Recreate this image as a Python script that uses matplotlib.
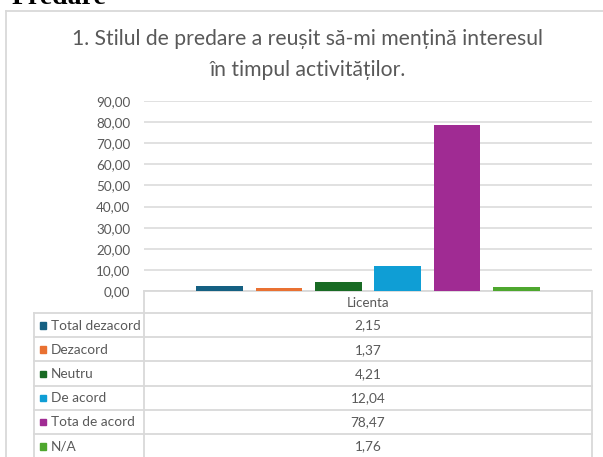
#!/usr/bin/env python3
"""Excel-style clustered bar chart with data table, Predare survey item 1."""

import matplotlib.pyplot as plt
from matplotlib.patches import Rectangle

W, H = 603, 457

HEADING = "Predare"
TITLE = "1. Stilul de predare a reușit să-mi mențină interesul\nîn timpul activităților."
CATEGORY = "Licenta"
SERIES = ["Total dezacord", "Dezacord", "Neutru", "De acord", "Tota de acord", "N/A"]
VALUES = [2.15, 1.37, 4.21, 12.04, 78.47, 1.76]
COLORS = ["#156082", "#E97132", "#196B24", "#0F9ED5", "#A02B93", "#4EA72E"]
YTICKS = [0, 10, 20, 30, 40, 50, 60, 70, 80, 90]

GRID = "#d9d9d9"
TEXT = "#595959"
FONT = ["Lato", "DejaVu Sans"]

plt.rcParams["font.family"] = FONT


def fx(x):
    return x / W


def fy(y):
    return 1 - y / H


def fmt(v):
    return f"{v:.2f}".replace(".", ",")


fig = plt.figure(figsize=(W / 100, H / 100), dpi=100)

# background overlay in pixel coordinates (y down)
bg = fig.add_axes([0, 0, 1, 1])
bg.set_xlim(0, W)
bg.set_ylim(H, 0)
bg.axis("off")

# chart frame
bg.plot([6, 6], [11, H + 5], color=GRID, lw=1.3)
bg.plot([6, W + 5], [11, 11], color=GRID, lw=1.3)

# heading, cut off at the top like in the screenshot
bg.text(12, 4, HEADING, family="Liberation Serif", weight="bold", fontsize=20,
        ha="left", va="baseline", color="black")

# title
lines = TITLE.split("\n")
for i, line in enumerate(lines):
    bg.text(308, 45 + i * 31, line, fontsize=15.2, color=TEXT, ha="center", va="baseline")

# plot area
left, right, top, bottom = 144, 592, 101, 291
ax = fig.add_axes([fx(left), fy(bottom), fx(right - left), fy(top) - fy(bottom)])
ax.set_xlim(-0.5, 0.5)
ax.set_ylim(0, 90)
n = len(VALUES)
step = 59.4 / (right - left)
width = 46.5 / (right - left)
for i, (v, c) in enumerate(zip(VALUES, COLORS)):
    ax.bar((i - (n - 1) / 2) * step, v, width=width, color=c, zorder=3)
ax.set_yticks(YTICKS)
ax.set_yticklabels([fmt(t) for t in YTICKS], fontsize=9.7, color=TEXT)
ax.tick_params(axis="y", length=0, pad=10)
ax.set_xticks([])
ax.grid(axis="y", color=GRID, lw=1.1, zorder=0)
for s in ax.spines.values():
    s.set_visible(False)
ax.set_facecolor("none")

# data table
row_h = 24.2
head_top, head_bot = bottom, 313
label_l = 34
val_x = (left + right) / 2
bg.plot([left, right], [head_top, head_top], color=GRID, lw=1.3)
bg.text(val_x, (head_top + head_bot) / 2 + 1, CATEGORY, fontsize=9.6, color=TEXT,
        ha="center", va="center")
for k in range(len(SERIES) + 1):
    y = head_bot + k * row_h
    bg.plot([label_l, right], [y, y], color=GRID, lw=1.3)
bg.plot([label_l, label_l], [head_bot, H + 5], color=GRID, lw=1.3)
bg.plot([left, left], [head_top, H + 5], color=GRID, lw=1.3)
bg.plot([right, right], [head_top, H + 5], color=GRID, lw=1.3)
for k, (name, v, c) in enumerate(zip(SERIES, VALUES, COLORS)):
    yc = head_bot + (k + 0.5) * row_h
    bg.add_patch(Rectangle((39.5, yc - 3), 6.5, 6.5, color=c))
    bg.text(51, yc + 0.5, name, fontsize=9.8, color=TEXT, ha="left", va="center")
    bg.text(val_x, yc + 0.5, fmt(v), fontsize=9.8, color=TEXT, ha="center", va="center")

fig.savefig("out.png", dpi=100)
